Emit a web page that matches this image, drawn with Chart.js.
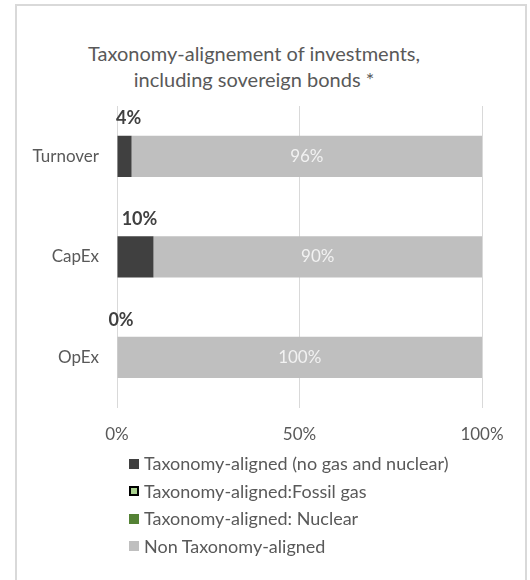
<!DOCTYPE html>
<html>
<head>
<meta charset="utf-8">
<script src="https://cdn.jsdelivr.net/npm/chart.js@4"></script>
<style>
  html, body { margin: 0; padding: 0; background: #fff; }
  body { width: 530px; height: 580px; position: relative; overflow: hidden; font-family: Lato, "Open Sans", sans-serif; color: #595959; }
  #frame { position: absolute; left: 15px; top: 4px; width: 508px; height: 600px; border: 2px solid #d9d9d9; border-bottom: none; }
  #title { position: absolute; left: 0; top: 40px; width: 508px; text-align: center; font-size: 20px; line-height: 26px; }
  #wrap { position: absolute; left: 0; top: 0; width: 530px; height: 478px; }
  #legend { position: absolute; left: 129px; top: 450px; font-size: 18px; line-height: 27.5px; }
  #legend .item { display: flex; align-items: center; white-space: nowrap; }
  #legend .box { display: inline-block; width: 10px; height: 10px; margin-right: 5px; box-sizing: border-box; }
</style>
</head>
<body>
<div id="frame"></div>
<div id="title">Taxonomy-alignement of investments,<br>including sovereign bonds *</div>
<div id="wrap"><canvas id="chart"></canvas></div>
<div id="legend"></div>
<script>
/* Alinhamento à taxonomia: barras empilhadas 100% por KPI */

const categories = ['Turnover', 'CapEx', 'OpEx'];
const seriesNames = [
  'Taxonomy-aligned (no gas and nuclear)',
  'Taxonomy-aligned:Fossil gas',
  'Taxonomy-aligned: Nuclear',
  'Non Taxonomy-aligned'
];
const alignedNoGasNuclear = [4, 10, 0];
const alignedFossilGas = [0, 0, 0];
const alignedNuclear = [0, 0, 0];
const nonAligned = [96, 90, 100];
const xTicks = [0, 50, 100];

const colors = ['#404040', '#a9d18e', '#548235', '#bfbfbf'];
const borders = [null, '#000000', null, null];

// rótulos: negrito acima da parte alinhada, claro dentro da parte não alinhada
const barLabels = {
  id: 'barLabels',
  afterDatasetsDraw(chart) {
    const ctx = chart.ctx;
    ctx.save();
    ctx.textAlign = 'center';
    ctx.textBaseline = 'middle';
    chart.getDatasetMeta(0).data.forEach((el, i) => {
      ctx.font = 'bold 18px Lato, "Open Sans", sans-serif';
      ctx.fillStyle = '#404040';
      const x = (el.base + el.x) / 2 + 4;
      ctx.fillText(alignedNoGasNuclear[i] + '%', x, el.y - el.height / 2 - 17);
    });
    chart.getDatasetMeta(3).data.forEach((el, i) => {
      ctx.font = '17px Lato, "Open Sans", sans-serif';
      ctx.fillStyle = '#f2f2f2';
      ctx.fillText(nonAligned[i] + '%', (el.base + el.x) / 2, el.y);
    });
    ctx.restore();
  }
};

const allSeries = [alignedNoGasNuclear, alignedFossilGas, alignedNuclear, nonAligned];

const chart = new Chart(document.getElementById('chart'), {
  type: 'bar',
  data: {
    labels: categories,
    datasets: allSeries.map((vals, i) => ({
      label: seriesNames[i],
      data: vals,
      backgroundColor: colors[i],
      borderWidth: 0,
      barPercentage: 1,
      categoryPercentage: 0.41
    }))
  },
  options: {
    indexAxis: 'y',
    responsive: true,
    maintainAspectRatio: false,
    animation: false,
    layout: { padding: { top: 106, right: 48, bottom: 16, left: 0 } },
    plugins: { legend: { display: false }, title: { display: false }, tooltip: { enabled: false } },
    scales: {
      x: {
        stacked: true, min: 0, max: 100,
        afterBuildTicks: s => { s.ticks = xTicks.map(v => ({ value: v })); },
        grid: { color: '#d9d9d9', lineWidth: 1, drawTicks: false },
        border: { display: false },
        ticks: { padding: 17, color: '#595959', font: { family: 'Lato', size: 17 }, callback: v => v + '%' }
      },
      y: {
        stacked: true,
        afterFit: s => { s.width = 117; },
        grid: { display: false, drawTicks: false },
        border: { display: false },
        ticks: { padding: 18, color: '#595959', font: { family: 'Lato', size: 17 } }
      }
    }
  },
  plugins: [barLabels]
});

// legenda vertical em HTML, gerada a partir dos datasets
document.getElementById('legend').innerHTML = chart.data.datasets.map((ds, i) => {
  const b = borders[i] ? `border:2px solid ${borders[i]};` : '';
  return `<div class="item"><span class="box" style="background:${ds.backgroundColor};${b}"></span>${ds.label}</div>`;
}).join('');
</script>
</body>
</html>
